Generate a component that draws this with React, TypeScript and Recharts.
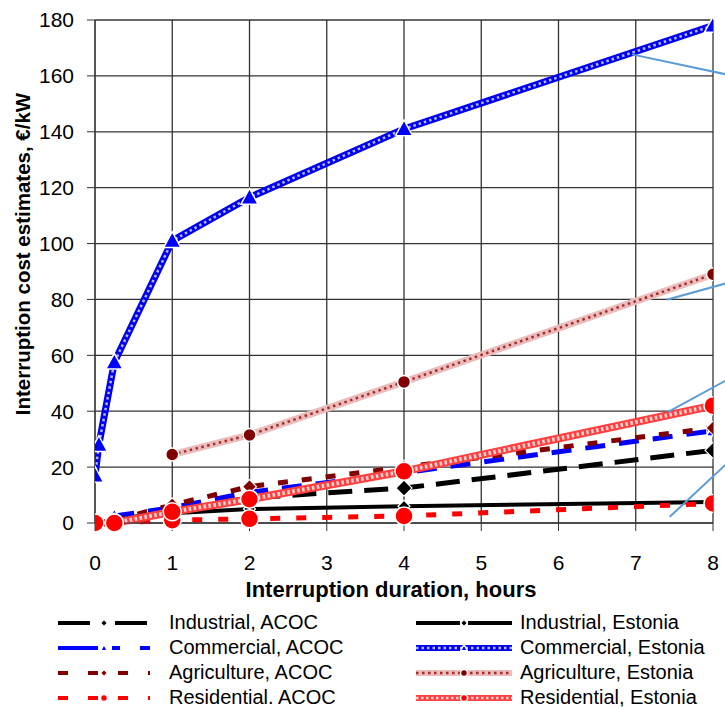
import React from 'react';
import { LineChart, Line, XAxis, YAxis, CartesianGrid, ReferenceLine, Label } from 'recharts';

const X_TICKS = [0, 1, 2, 3, 4, 5, 6, 7, 8];
const Y_TICKS = [0, 20, 40, 60, 80, 100, 120, 140, 160, 180];

// ACOC estimates
const indAcocHours = [0.25, 1, 2, 4, 8];
const indAcocCost = [1, 4, 9, 12.5, 26];
const comAcocHours = [0.25, 1, 2, 4, 8];
const comAcocCost = [2.5, 5.5, 11, 18, 33];
const agrAcocHours = [0.25, 1, 2, 4, 8];
const agrAcocCost = [1, 6.5, 13, 20, 34];
const resAcocHours = [0.25, 1, 2, 4, 8];
const resAcocCost = [0, 1, 1.5, 2.5, 7];

// Estonia survey
const indEstHours = [0.25, 1, 2, 4, 8];
const indEstCost = [1.5, 3.5, 5, 6, 7.5];
const comEstHours = [0, 0.05, 0.25, 1, 2, 4, 8];
const comEstCost = [17, 28, 57.5, 101, 116.5, 141, 178];
const agrEstHours = [1, 2, 4, 8];
const agrEstCost = [24.5, 31.5, 50.5, 89];
const resEstHours = [0, 0.25, 1, 2, 4, 8];
const resEstCost = [0, 0, 4, 8.5, 18.5, 42];

// light blue callout lines (x1, y1, x2, y2)
const calloutLines = [
  [6.95, 167.7, 8.16, 160.6],
  [7.4, 79.9, 8.16, 85.7],
  [7.42, 39.8, 8.16, 50.9],
  [7.44, 2.2, 8.16, 20.8],
];

const toRows = (hours: number[], cost: number[]) => hours.map((h, i) => ({ x: h, y: cost[i] }));

const FONT = '"Liberation Sans", Arial, sans-serif';

type Style = {
  color: string;
  dot: string;
  width: number;
  dash?: string;
  legendDash?: string;
  overlay?: { color: string; width: number; dash: string };
  marker: 'circle' | 'triangle' | 'diamond';
  size: number;
};

const series: { name: string; data: { x: number; y: number }[]; s: Style }[] = [
  { name: 'Industrial, Estonia', data: toRows(indEstHours, indEstCost), s: { color: '#000', dot: '#000', width: 4, legendDash: '44 8', marker: 'diamond', size: 6 } },
  { name: 'Industrial, ACOC', data: toRows(indAcocHours, indAcocCost), s: { color: '#000', dot: '#000', width: 5, dash: '24 12', legendDash: '32 25', marker: 'diamond', size: 8 } },
  { name: 'Commercial, ACOC', data: toRows(comAcocHours, comAcocCost), s: { color: '#0000ff', dot: '#0000ff', width: 5, dash: '20 14', legendDash: '40 14 8 20', marker: 'triangle', size: 7 } },
  { name: 'Agriculture, ACOC', data: toRows(agrAcocHours, agrAcocCost), s: { color: '#800000', dot: '#800000', width: 5, dash: '10 14', legendDash: '10 20', marker: 'diamond', size: 7 } },
  { name: 'Residential. ACOC', data: toRows(resAcocHours, resAcocCost), s: { color: '#ff0000', dot: '#ff0000', width: 5, dash: '10 16', legendDash: '10 20', marker: 'circle', size: 9 } },
  { name: 'Agriculture, Estonia', data: toRows(agrEstHours, agrEstCost), s: { color: '#ebbcbc', dot: '#800000', width: 7, overlay: { color: '#a52a2a', width: 2.5, dash: '2.5 3.5' }, marker: 'circle', size: 6.5 } },
  { name: 'Residential, Estonia', data: toRows(resEstHours, resEstCost), s: { color: '#ff4040', dot: '#ff0000', width: 8, overlay: { color: '#ffd0d0', width: 4, dash: '2.5 2.5' }, marker: 'circle', size: 9 } },
  { name: 'Commercial, Estonia', data: toRows(comEstHours, comEstCost), s: { color: '#0000ee', dot: '#0000ff', width: 7, overlay: { color: '#b8b8ff', width: 2.5, dash: '2.5 3' }, marker: 'triangle', size: 9 } },
];

const Marker = ({ cx, cy, shape, size, fill }: any) => {
  if (cx == null || cy == null) return null;
  if (shape === 'circle') return <circle cx={cx} cy={cy} r={size} fill={fill} stroke="#fff" strokeWidth={1.5} />;
  if (shape === 'triangle') {
    const pts = `${cx},${cy - size} ${cx + size * 0.95},${cy + size * 0.75} ${cx - size * 0.95},${cy + size * 0.75}`;
    return <polygon points={pts} fill={fill} stroke="#fff" strokeWidth={1.5} />;
  }
  const pts = `${cx},${cy - size} ${cx + size},${cy} ${cx},${cy + size} ${cx - size},${cy}`;
  return <polygon points={pts} fill={fill} stroke="#fff" strokeWidth={1.2} />;
};

const legendLeft = ['Industrial, ACOC', 'Commercial, ACOC', 'Agriculture, ACOC', 'Residential. ACOC'];
const legendRight = ['Industrial, Estonia', 'Commercial, Estonia', 'Agriculture, Estonia', 'Residential, Estonia'];

const LegendIcon = ({ s, w }: { s: Style; w: number }) => (
  <svg width={w} height={16} style={{ display: 'block' }}>
    <line x1={0} y1={8} x2={w} y2={8} stroke={s.color} strokeWidth={s.width > 5 ? 6 : 4} strokeDasharray={s.legendDash} />
    {s.overlay && <line x1={0} y1={8} x2={w} y2={8} stroke={s.overlay.color} strokeWidth={2.5} strokeDasharray={s.overlay.dash} />}
    <Marker cx={w / 2} cy={8} shape={s.marker} size={3.5} fill={s.dot} />
  </svg>
);

const LegendColumn = ({ names, left, iconW, gap }: { names: string[]; left: number; iconW: number; gap: number }) => (
  <div style={{ position: 'absolute', left, top: 610, fontFamily: FONT, fontSize: 20, color: '#000' }}>
    {names.map((n) => {
      const item = series.find((d) => d.name === n)!;
      return (
        <div key={n} style={{ display: 'flex', alignItems: 'center', height: 25 }}>
          <div style={{ width: iconW }}><LegendIcon s={item.s} w={iconW} /></div>
          <span style={{ marginLeft: gap }}>{n}</span>
        </div>
      );
    })}
  </div>
);

export default function App() {
  return (
    <div style={{ position: 'absolute', left: 0, top: 0, width: 725, height: 707, background: '#fff', overflow: 'hidden' }}>
      <LineChart width={725} height={612} margin={{ top: 20, right: 12, left: 35, bottom: 29 }} style={{ overflow: 'visible' }}>
        <CartesianGrid stroke="#333" strokeWidth={1.3} />
        <XAxis
          type="number"
          dataKey="x"
          domain={[0, 8]}
          ticks={X_TICKS}
          height={60}
          allowDataOverflow
          stroke="#333"
          tickSize={8}
          tickMargin={24}
          tick={{ fill: '#000', fontSize: 21, fontFamily: FONT }}
        >
          <Label
            content={() => (
              <text x={391} y={597} textAnchor="middle" fontFamily={FONT} fontSize={22} fontWeight="bold" fill="#000">
                Interruption duration, hours
              </text>
            )}
          />
        </XAxis>
        <YAxis
          type="number"
          dataKey="y"
          domain={[0, 180]}
          ticks={Y_TICKS}
          width={60}
          stroke="#333"
          tickSize={8}
          tickMargin={13}
          tick={{ fill: '#000', fontSize: 21, fontFamily: FONT }}
        >
          <Label
            content={() => (
              <text x={30} y={254} transform="rotate(-90 30 254)" textAnchor="middle" fontFamily={FONT} fontSize={20.5} fontWeight="bold" fill="#000">
                Interruption cost estimates, €/kW
              </text>
            )}
          />
        </YAxis>
        {series.map((d) => [
          <Line
            key={d.name}
            data={d.data}
            dataKey="y"
            name={d.name}
            type="linear"
            stroke={d.s.color}
            strokeWidth={d.s.width}
            strokeDasharray={d.s.dash}
            dot={d.s.overlay ? false : (p: any) => <Marker key={`${d.name}-${p.index}`} cx={p.cx} cy={p.cy} shape={d.s.marker} size={d.s.size} fill={d.s.dot} />}
            isAnimationActive={false}
          />,
          d.s.overlay ? (
            <Line
              key={d.name + '-tex'}
              data={d.data}
              dataKey="y"
              type="linear"
              stroke={d.s.overlay.color}
              strokeWidth={d.s.overlay.width}
              strokeDasharray={d.s.overlay.dash}
              legendType="none"
              dot={(p: any) => (
                <Marker key={`${d.name}-m-${p.index}`} cx={p.cx} cy={p.cy} shape={d.s.marker} size={d.s.size} fill={d.s.dot} />
              )}
              isAnimationActive={false}
            />
          ) : null,
        ])}
        {calloutLines.map((c, i) => (
          <ReferenceLine
            key={`c${i}`}
            segment={[{ x: c[0], y: c[1] }, { x: c[2], y: c[3] }]}
            stroke="#5b9bd5"
            strokeWidth={2}
            ifOverflow="visible"
          />
        ))}
      </LineChart>
      <LegendColumn names={legendLeft} left={58} iconW={92} gap={19} />
      <LegendColumn names={legendRight} left={416} iconW={96} gap={8} />
    </div>
  );
}
